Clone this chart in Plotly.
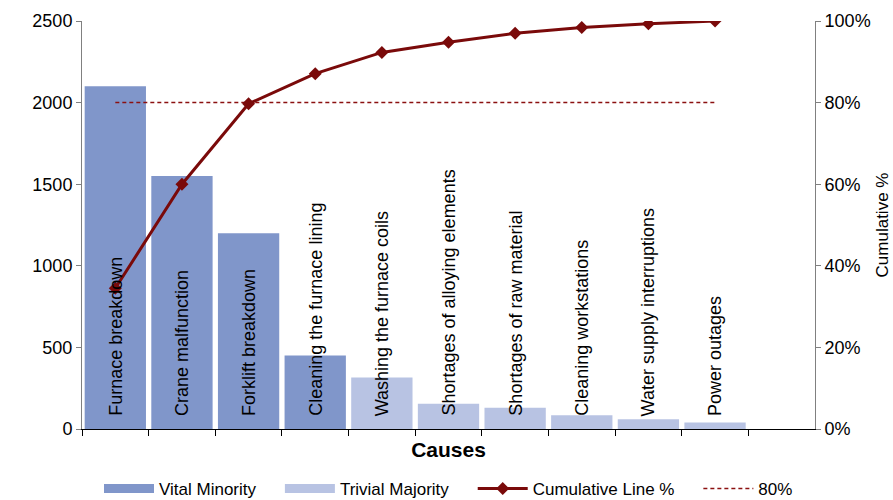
import plotly.graph_objects as go

causes = ["Furnace breakdown", "Crane malfunction", "Forklift breakdown",
          "Cleaning the furnace lining", "Washing the furnace coils",
          "Shortages of alloying elements", "Shortages of raw material",
          "Cleaning workstations", "Water supply interruptions", "Power outages"]
minutes = [2100, 1550, 1200, 450, 315, 155, 130, 85, 60, 40]
group = ["Vital Minority"] * 4 + ["Trivial Majority"] * 6
cumulative_pct = [0.345, 0.60, 0.797, 0.871, 0.923, 0.948, 0.970, 0.984, 0.993, 1.0]
threshold = [0.8] * 10
left_ticks = [0, 500, 1000, 1500, 2000, 2500]
right_ticks = [0, 0.2, 0.4, 0.6, 0.8, 1.0]

C_VITAL = "#8096CA"
C_TRIV = "#B8C3E3"
C_LINE = "#7A0A0A"
FONT = "Liberation Sans, Arial, sans-serif"
PAD = "\u00a0" * 4

fig = go.Figure()

vx = [c for c, g in zip(causes, group) if g == "Vital Minority"]
vy = [m for m, g in zip(minutes, group) if g == "Vital Minority"]
tx = [c for c, g in zip(causes, group) if g == "Trivial Majority"]
ty = [m for m, g in zip(minutes, group) if g == "Trivial Majority"]

fig.add_trace(go.Bar(x=vx, y=vy, marker=dict(color=C_VITAL, line=dict(width=0)),
                     width=0.92, showlegend=False, name="Vital Minority"))
fig.add_trace(go.Bar(x=tx, y=ty, marker=dict(color=C_TRIV, line=dict(width=0)),
                     width=0.92, showlegend=False, name="Trivial Majority"))

fig.add_trace(go.Scatter(x=causes, y=threshold, yaxis="y2", mode="lines",
                         line=dict(color="#8B1010", width=1.5, dash="4px,3px"),
                         showlegend=False, name="80%"))
fig.add_trace(go.Scatter(x=causes, y=cumulative_pct, yaxis="y2", mode="lines+markers",
                         line=dict(color=C_LINE, width=3),
                         marker=dict(symbol="diamond", size=10, color=C_LINE),
                         showlegend=False, name="Cumulative Line %"))

# legend-only entries
fig.add_trace(go.Scatter(x=[None], y=[None], mode="lines", name="Vital Minority" + PAD,
                         line=dict(color=C_VITAL, width=9)))
fig.add_trace(go.Scatter(x=[None], y=[None], mode="lines", name="Trivial Majority" + PAD,
                         line=dict(color=C_TRIV, width=9)))
fig.add_trace(go.Scatter(x=[None], y=[None], mode="lines+markers", name="Cumulative Line %" + PAD,
                         line=dict(color=C_LINE, width=3),
                         marker=dict(symbol="diamond", size=10, color=C_LINE)))
fig.add_trace(go.Scatter(x=[None], y=[None], mode="lines", name="80%",
                         line=dict(color="#8B1010", width=1.5, dash="4px,3px")))

for c in causes:
    fig.add_annotation(x=c, y=0, yref="y", text=c, textangle=-90, showarrow=False,
                       xanchor="center", yanchor="bottom", yshift=11,
                       font=dict(family=FONT, size=18, color="black"))

fig.add_annotation(x=22, xref="paper", xanchor="center", y=196, text="<b>Minutes</b>",
                   textangle=-90, showarrow=False, font=dict(family=FONT, size=21, color="black"))

cat_range_end = len(causes) + 0.5

fig.update_layout(
    width=893, height=500,
    margin=dict(l=82, r=78, t=21, b=71, autoexpand=False),
    paper_bgcolor="white", plot_bgcolor="white",
    barmode="overlay",
    font=dict(family=FONT, size=18, color="black"),
    xaxis=dict(type="category", categoryorder="array", categoryarray=causes,
               range=[-0.5, cat_range_end], showticklabels=False,
               tickson="boundaries", ticks="outside", ticklen=6, tickcolor="black",
               showline=True, linecolor="black", linewidth=1, showgrid=False, zeroline=False,
               title=dict(text="<b>Causes</b>", font=dict(size=21), standoff=13)),
    yaxis=dict(range=[0, 2500], tickvals=left_ticks, ticks="outside", ticklen=5,
               tickcolor="#808080", showline=True, linecolor="#808080", linewidth=1,
               showgrid=False, zeroline=False, tickfont=dict(size=18)),
    yaxis2=dict(range=[0, 1.0], tickvals=right_ticks, tickformat=".0%", overlaying="y",
                side="right", ticks="outside", ticklen=5, tickcolor="#808080",
                showline=True, linecolor="#808080", linewidth=1, showgrid=False,
                zeroline=False, tickfont=dict(size=18),
                title=dict(text="Cumulative %", font=dict(size=17), standoff=6)),
    legend=dict(orientation="h", x=0.5, xanchor="center", y=-0.147, yanchor="middle",
                font=dict(size=17), itemwidth=50, traceorder="normal"),
)

fig.write_html("out.html")
